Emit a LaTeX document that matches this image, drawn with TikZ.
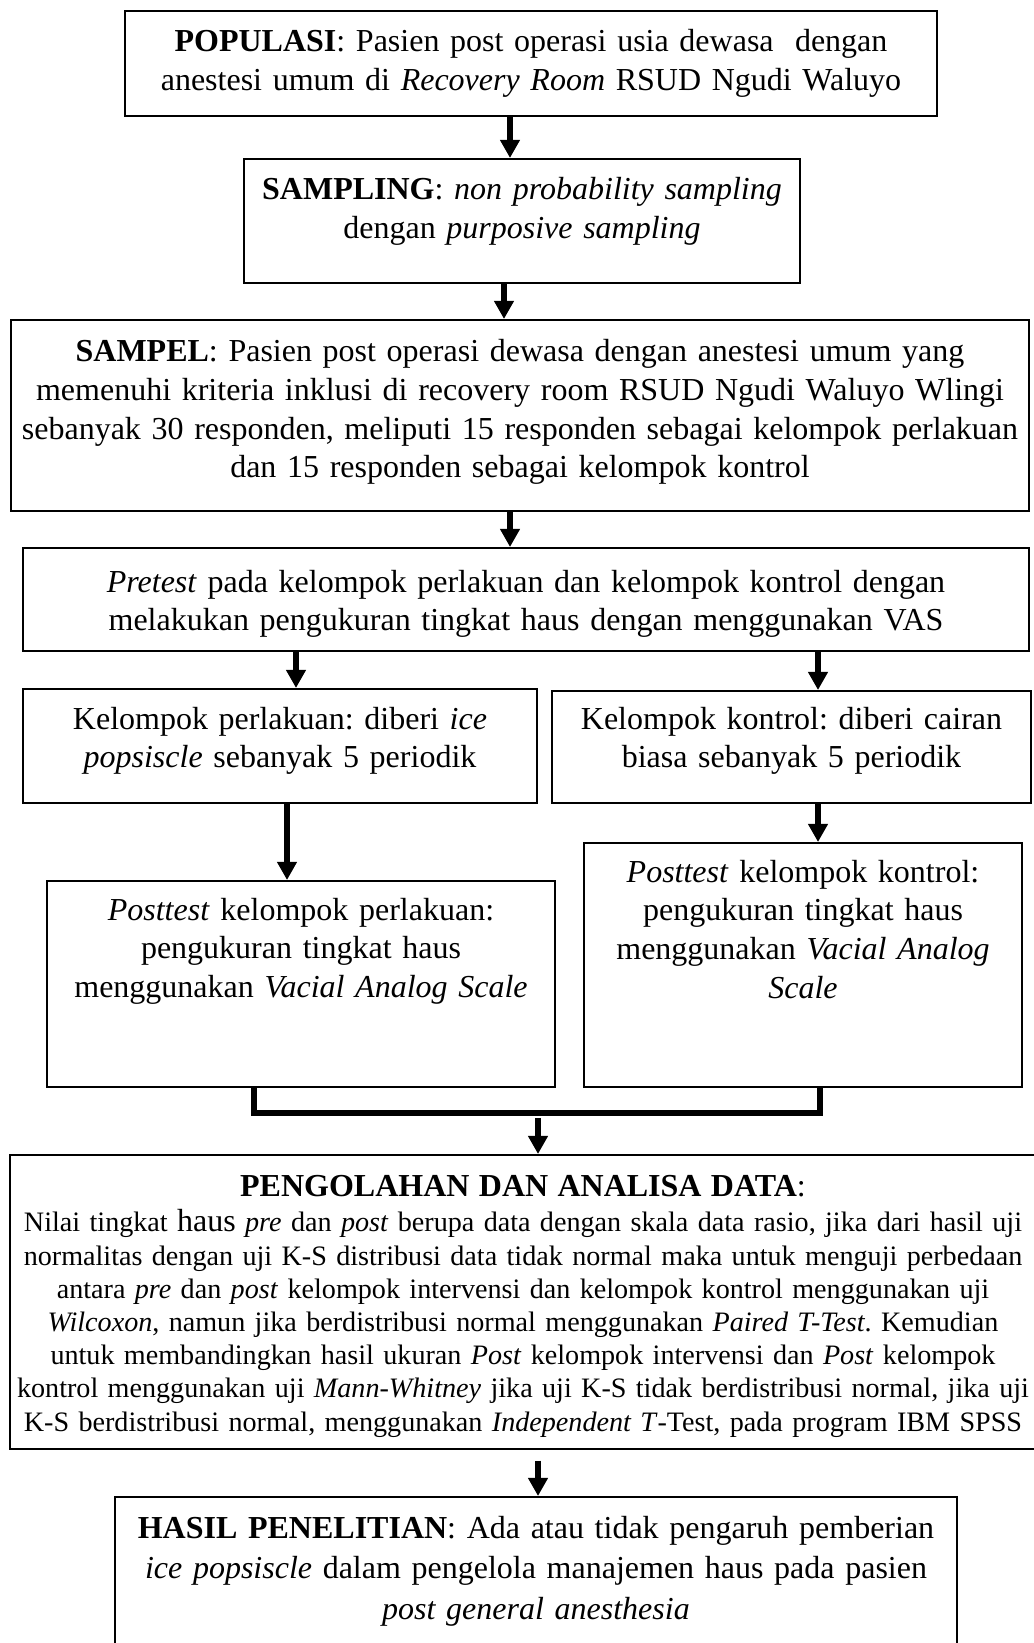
\documentclass[tikz,border=0pt]{standalone}
\usepackage{fontspec}
\setmainfont{Liberation Serif}
\frenchspacing
\usetikzlibrary{arrows.meta,fit}
\newcommand{\flowBox}[8][]{%%
  \node[boxStyle,fit={(#3,#4) (#5,#6)}] (#2) {};
  \pgfmathsetmacro{\textW}{(#5-#3+200)*0.375}
  \node[textStyle,text width=\textW pt,#1] (#2Text) at ({(#3+#5)/2},#7) {#8};
}

\begin{document}
\begin{tikzpicture}[x=0.375pt,y=-0.375pt,%%
  boxStyle/.style={draw,inner sep=0pt,line width=0.75pt},%%
  textStyle/.style={anchor=base,align=center,inner sep=0pt,font=\fontsize{12}{14.5}\selectfont},%%
  smallText/.style={font=\fontsize{10.55}{12.45}\selectfont},%%
  wideText/.style={font=\fontsize{12}{15.3}\selectfont},%%
  arrowStyle/.style={line width=2.2pt,-{Triangle[length=6.8pt,width=7.1pt]}},%%
  mergeStyle/.style={line width=2.2pt}%%
]
\useasboundingbox (0,0) rectangle (1033,1643);
%%
%% The boxes, top to bottom.
\flowBox{popBox}{125}{11}{937}{116}{52}{%%
  \textbf{POPULASI}: Pasien post operasi usia dewasa\ \ dengan\\
  anestesi umum di \textit{Recovery Room} RSUD Ngudi Waluyo}
\flowBox{samplingBox}{244}{159}{800}{283}{200}{%%
  \textbf{SAMPLING}: \textit{non probability sampling}\\
  dengan \textit{purposive sampling}}
\flowBox{sampelBox}{11}{320}{1029}{511}{362}{%%
  \textbf{SAMPEL}: Pasien post operasi dewasa dengan anestesi umum yang\\
  memenuhi kriteria inklusi di recovery room RSUD Ngudi Waluyo Wlingi\\
  sebanyak 30 responden, meliputi 15 responden sebagai kelompok perlakuan\\
  dan 15 responden sebagai kelompok kontrol}
\flowBox{pretestBox}{23}{548}{1029}{651}{592}{%%
  \textit{Pretest} pada kelompok perlakuan dan kelompok kontrol dengan\\
  melakukan pengukuran tingkat haus dengan menggunakan VAS}
\flowBox{perlakuanBox}{23}{689}{537}{803}{729}{%%
  Kelompok perlakuan: diberi \textit{ice}\\
  \textit{popsiscle} sebanyak 5 periodik}
\flowBox{kontrolBox}{552}{691}{1031}{803}{729}{%%
  Kelompok kontrol: diberi cairan\\
  biasa sebanyak 5 periodik}
\flowBox{postPerlakuanBox}{47}{881}{555}{1087}{920}{%%
  \textit{Posttest} kelompok perlakuan:\\
  pengukuran tingkat haus\\
  menggunakan \textit{Vacial Analog Scale}}
\flowBox{postKontrolBox}{584}{843}{1022}{1087}{882}{%%
  \textit{Posttest} kelompok kontrol:\\
  pengukuran tingkat haus\\
  menggunakan \textit{Vacial Analog}\\
  \textit{Scale}}
\flowBox[smallText]{analisaBox}{10}{1155}{1036}{1449}{1196}{%%
  {\fontsize{12}{12.45}\selectfont\textbf{PENGOLAHAN DAN ANALISA DATA}:}\\[1pt]
  Nilai tingkat {\fontsize{12}{12.45}\selectfont haus} \textit{pre} dan \textit{post} berupa data dengan skala data rasio, jika dari hasil uji\\
  normalitas dengan uji K-S distribusi data tidak normal maka untuk menguji perbedaan\\
  antara \textit{pre} dan \textit{post} kelompok intervensi dan kelompok kontrol menggunakan uji\\
  \textit{Wilcoxon}, namun jika berdistribusi normal menggunakan \textit{Paired T-Test}. Kemudian\\
  untuk membandingkan hasil ukuran \textit{Post} kelompok intervensi dan \textit{Post} kelompok\\
  kontrol menggunakan uji \textit{Mann-Whitney} jika uji K-S tidak berdistribusi normal, jika uji\\
  K-S berdistribusi normal, menggunakan \textit{Independent T}-Test, pada program IBM SPSS}
\flowBox[wideText]{hasilBox}{115}{1497}{957}{1660}{1538}{%%
  \textbf{HASIL PENELITIAN}: Ada atau tidak pengaruh pemberian\\
  \textit{ice popsiscle} dalam pengelola manajemen haus pada pasien\\
  \textit{post general anesthesia}}
%%
%% Where the arrows run.
\coordinate (a1) at (510,0);
\coordinate (a2) at (504,0);
\coordinate (a3) at (510,0);
\coordinate (a4L) at (296,0);
\coordinate (a4R) at (818,0);
\coordinate (a5L) at (287,0);
\coordinate (a5R) at (818,0);
\coordinate (mergeL) at (254,1113);
\coordinate (mergeR) at (820,1113);
\coordinate (mergeJoin) at (538,1113);
%%
%% The arrows.
\draw[arrowStyle] (popBox.south -| a1) -- (samplingBox.north -| a1);
\draw[arrowStyle] (samplingBox.south -| a2) -- (sampelBox.north -| a2);
\draw[arrowStyle] (sampelBox.south -| a3) -- (pretestBox.north -| a3);
\draw[arrowStyle] (pretestBox.south -| a4L) -- (perlakuanBox.north -| a4L);
\draw[arrowStyle] (pretestBox.south -| a4R) -- (kontrolBox.north -| a4R);
\draw[arrowStyle] (perlakuanBox.south -| a5L) -- (postPerlakuanBox.north -| a5L);
\draw[arrowStyle] (kontrolBox.south -| a5R) -- (postKontrolBox.north -| a5R);
%% Both posttest boxes join here.
\draw[mergeStyle] (postPerlakuanBox.south -| mergeL) -- (mergeL) -- (mergeR) -- (postKontrolBox.south -| mergeR);
\draw[arrowStyle,shorten <=2pt] (mergeJoin) -- (analisaBox.north -| mergeJoin);
\draw[arrowStyle,shorten <=4pt] (analisaBox.south -| mergeJoin) -- (hasilBox.north -| mergeJoin);
\end{tikzpicture}
\end{document}
